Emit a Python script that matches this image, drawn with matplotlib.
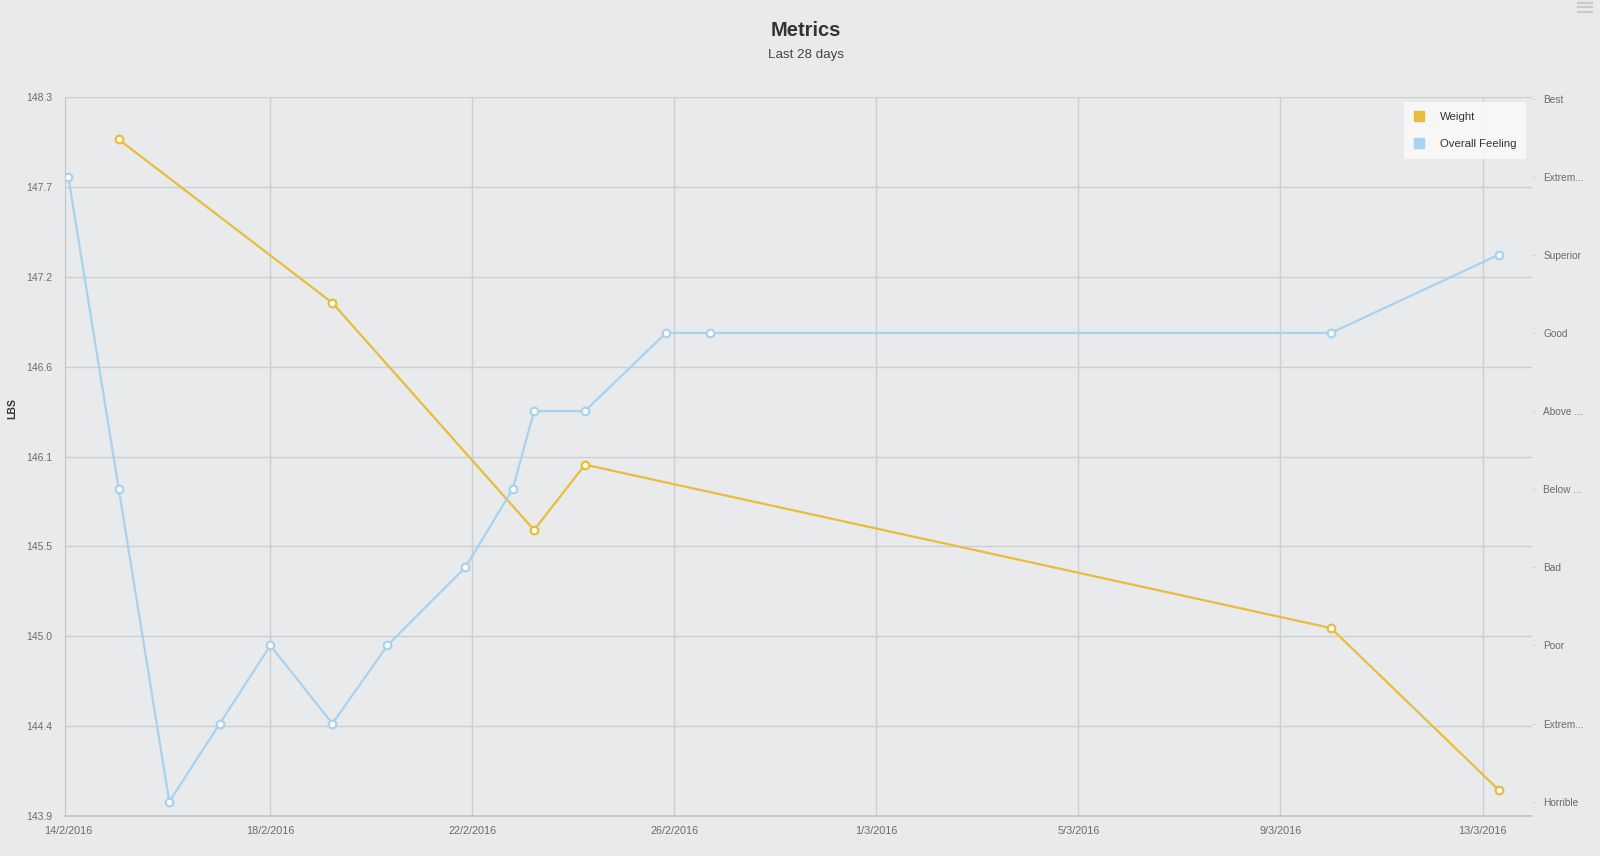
import matplotlib
matplotlib.use("Agg")
import matplotlib.pyplot as plt
import matplotlib.dates as mdates
from matplotlib import font_manager
from matplotlib.lines import Line2D
from datetime import datetime
import numpy as np

# ---------------- data ----------------
feeling_dates = ["2016-02-14 00:00", "2016-02-15 00:00", "2016-02-16 00:00", "2016-02-17 00:00",
                 "2016-02-18 00:00", "2016-02-19 05:30", "2016-02-20 07:40", "2016-02-21 20:40",
                 "2016-02-22 19:10", "2016-02-23 05:20", "2016-02-24 05:30", "2016-02-25 20:00",
                 "2016-02-26 17:00", "2016-03-10 00:00", "2016-03-13 07:40"]
feeling_values = [9, 5, 1, 2, 3, 2, 3, 4, 5, 6, 6, 7, 7, 7, 8]

weight_dates = ["2016-02-15 00:00", "2016-02-19 05:30", "2016-02-23 05:20",
                "2016-02-24 05:30", "2016-03-10 00:00", "2016-03-13 07:40"]
weight_values = [148.04, 147.04, 145.65, 146.05, 145.05, 144.06]

weight_ticks = [143.9, 144.45, 145.0, 145.55, 146.1, 146.65, 147.2, 147.75, 148.3]
weight_tick_labels = ["143.9", "144.4", "145.0", "145.5", "146.1", "146.6", "147.2", "147.7", "148.3"]

feeling_ticks = [1, 2, 3, 4, 5, 6, 7, 8, 9, 10]
feeling_tick_labels = ["Horrible", "Extrem...", "Poor", "Bad", "Below ...", "Above ...",
                       "Good", "Superior", "Extrem...", "Best"]

x_tick_dates = ["2016-02-14", "2016-02-18", "2016-02-22", "2016-02-26",
                "2016-03-01", "2016-03-05", "2016-03-09", "2016-03-13"]
x_tick_labels = ["14/2/2016", "18/2/2016", "22/2/2016", "26/2/2016",
                 "1/3/2016", "5/3/2016", "9/3/2016", "13/3/2016"]

title = "Metrics"
subtitle = "Last 28 days"
series_names = ["Weight", "Overall Feeling"]

# ---------------- style ----------------
avail = {f.name for f in font_manager.fontManager.ttflist}
base_font = "Liberation Sans" if "Liberation Sans" in avail else "DejaVu Sans"
narrow_font = "Liberation Sans Narrow" if "Liberation Sans Narrow" in avail else base_font
plt.rcParams["font.family"] = [base_font, "DejaVu Sans"]

BG = "#e9eaec"
GRID = "#cdced0"
YELLOW = "#e8bd3c"
BLUE = "#a9d2f0"
TICKC = "#6b6b6b"

def pd_(s):
    return datetime.strptime(s, "%Y-%m-%d %H:%M") if " " in s else datetime.strptime(s, "%Y-%m-%d")

fx = mdates.date2num([pd_(s) for s in feeling_dates])
wx = mdates.date2num([pd_(s) for s in weight_dates])
tx = mdates.date2num([pd_(s) for s in x_tick_dates])

W, H = 1600, 856
fig = plt.figure(figsize=(16, 8.56), dpi=100, facecolor=BG)
L, R, T, B = 65, 1532, 97, 816
ax = fig.add_axes([L / W, 1 - B / H, (R - L) / W, (B - T) / H])
ax.set_facecolor(BG)
ax2 = ax.twinx()
ax2.patch.set_visible(False)

x0 = mdates.date2num(datetime(2016, 2, 14)) - 0.065
x1 = mdates.date2num(datetime(2016, 3, 13)) + 0.98
ax.set_xlim(x0, x1)
ax.set_ylim(weight_ticks[0], weight_ticks[-1])
ax2.set_ylim(0.817, 10.02)

# grid
ax.set_yticks(weight_ticks)
ax.set_yticklabels(weight_tick_labels)
ax.set_xticks(tx)
ax.set_xticklabels(x_tick_labels, fontfamily=[narrow_font, "DejaVu Sans"])
ax.grid(True, color=GRID, linewidth=1.0)
ax.get_xgridlines()[0].set_visible(False)
ax.set_axisbelow(True)
ax.tick_params(axis="y", length=0, pad=9, labelsize=7.5, labelcolor=TICKC)
ax.tick_params(axis="x", length=0, pad=7, labelsize=7.8, labelcolor=TICKC)

ax2.set_yticks(feeling_ticks)
ax2.set_yticklabels(feeling_tick_labels)
ax2.tick_params(axis="y", length=3, width=0.6, color="#d4d5d7", pad=5, labelsize=7.3, labelcolor=TICKC)
for lbl in ax2.get_yticklabels():
    lbl.set_horizontalalignment("left")

for sp in ["top", "right"]:
    ax.spines[sp].set_visible(False)
    ax2.spines[sp].set_visible(False)
ax2.spines["left"].set_visible(False)
ax2.spines["bottom"].set_visible(False)
ax.spines["left"].set_color("#c4c5c7")
ax.spines["bottom"].set_color("#c4c5c7")
ax.spines["bottom"].set_linewidth(1.2)

# series
ax.plot(wx, weight_values, color=YELLOW, linewidth=1.6, marker="o", markersize=5.5,
        markerfacecolor="white", markeredgecolor=YELLOW, markeredgewidth=1.6, zorder=3)
ax2.plot(fx, feeling_values, color=BLUE, linewidth=1.6, marker="o", markersize=5.5,
         markerfacecolor="white", markeredgecolor=BLUE, markeredgewidth=1.6, zorder=3)

# legend
handles = [Line2D([], [], linestyle="none", marker="s", markersize=7, color=YELLOW),
           Line2D([], [], linestyle="none", marker="s", markersize=7, color=BLUE)]
leg = ax2.legend(handles, series_names, loc="upper right",
                 bbox_to_anchor=(1526 / W, 1 - 102 / H), bbox_transform=fig.transFigure,
                 frameon=True, fontsize=8.2, labelspacing=1.55, handletextpad=1.3,
                 borderpad=0.85, handlelength=1.0, borderaxespad=0, fancybox=False)
leg.get_frame().set_facecolor("#f8f8f9")
leg.get_frame().set_edgecolor("none")
leg.get_frame().set_alpha(0.95)
for t in leg.get_texts():
    t.set_color("#333333")

# titles
fig.text(0.5 * (L + R) / W + 0.0045, 1 - 31 / H, title, ha="center", va="center",
         fontsize=14.5, fontweight="bold", color="#333333")
fig.text(0.5 * (L + R) / W + 0.0045, 1 - 55 / H, subtitle, ha="center", va="center",
         fontsize=9.6, color="#444444")
fig.text(12 / W, 1 - 409 / H, "LBS", rotation=90, ha="center", va="center",
         fontsize=7.5, fontweight="bold", color="#333333")

# menu icon
for yy in [2.5, 7, 11.5]:
    fig.add_artist(Line2D([1578 / W, 1592 / W], [1 - yy / H, 1 - yy / H],
                          transform=fig.transFigure, color="#c9cacc", linewidth=1.6))

fig.savefig("out.png", dpi=100, facecolor=BG)
